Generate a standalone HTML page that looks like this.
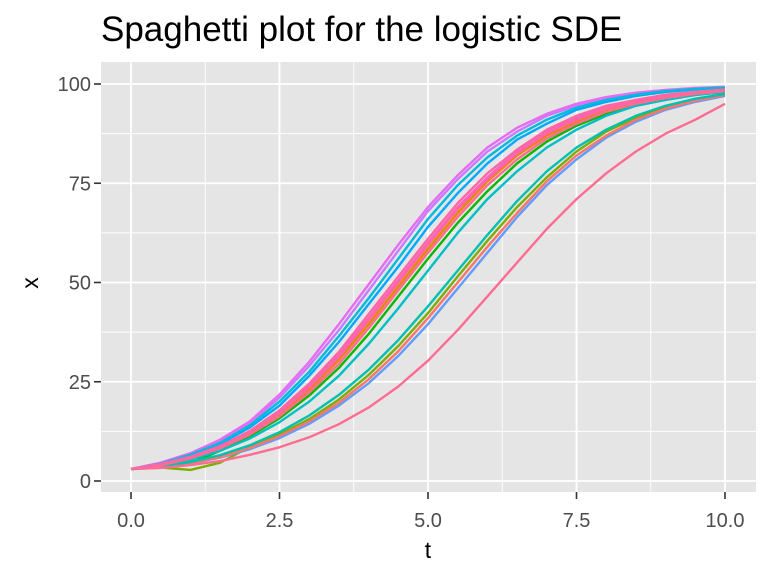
<!DOCTYPE html>
<html><head><meta charset="utf-8"><style>
body{margin:0;background:#fff;}
svg text{font-family:"Liberation Sans",Arial,sans-serif;}
</style></head><body>
<svg id="chart" width="768" height="576" xmlns="http://www.w3.org/2000/svg">
<text x="101" y="41" font-size="35" fill="#000">Spaghetti plot for the logistic SDE</text>
<rect x="101" y="62" width="655" height="430" fill="#E5E5E5"/>
<g id="grid"></g>
<g id="lines"></g>
<g id="axes"></g>
<text x="428" y="558" font-size="23" text-anchor="middle" fill="#000">t</text>
<text x="38" y="283" font-size="23" text-anchor="middle" fill="#000" transform="rotate(-90 38 283)">x</text>
</svg>
<script>
const times = [0,0.5,1,1.5,2,2.5,3,3.5,4,4.5,5,5.5,6,6.5,7,7.5,8,8.5,9,9.5,10];
const xTicks = [0,2.5,5,7.5,10];
const xTickLabels = ["0.0","2.5","5.0","7.5","10.0"];
const yTicks = [0,25,50,75,100];
const yTickLabels = ["0","25","50","75","100"];
const seriesColors = ["#00A9FF","#0CB702","#E58700","#00BFC4","#7CAE00","#619CFF","#F8766D","#00C0AF","#C77CFF","#E76BF3","#00BCD8","#FF61C3","#FF67A4","#FF6C91"];
const s1 = [3,4.5,6.8,10,14.5,21,29,38,48,58,68,76,83,88,92,94.5,96.5,97.5,98.3,98.8,99.2];
const s2 = [3,4.3,6.3,9.3,13.5,19,26.5,35,44.5,54,64,72.5,80,86,90,93.5,95.5,97,98,98.6,99];
const s3 = [3,4.2,6,8.7,12.6,17.8,24.5,32.5,42,51.5,61,70,77.5,83.5,88.5,92,94.5,96,97.3,98,98.6];
const s4 = [3,4,5.8,8.3,12,16.8,23,30.5,39.5,49,58.5,67.5,75.5,82,87,90.5,93.5,95.5,96.8,97.8,98.4];
const s5 = [3,3.6,4.5,7.6,11.3,15.8,21.5,28.5,37,46.5,56,65,73,80,85.5,89.5,92.5,94.8,96.3,97.3,98];
const s6 = [3,3.8,5.4,7.6,10.7,14.8,20,26.5,34.5,43.5,53,62.5,71,78,84,88.5,92,94.5,96,97.2,98];
const s7 = [3,4.3,6.1,8.8,12.4,17.5,24,31.8,41,50.5,60,69,76.5,83,88,91.5,94,96,97.2,98,98.6];
const s8 = [3,3.9,5.7,8.2,11.7,16.3,22.3,29.5,38.5,48,57.5,66.5,74.5,81,86.3,90,93,95,96.5,97.5,98.2];
const s9 = [3,3.6,4.8,6.5,9,12.3,16.5,21.7,28,35.5,44,53,62,70.5,78,84,88.5,92,94.5,96.3,97.5];
const s10 = [3,3.4,2.8,4.6,8.6,11.7,15.6,20.5,26.7,34,42.3,51.5,60.5,69,76.5,83,88,91.5,94,96,97.3];
const s11 = [3,3.5,4.5,6,8.3,11.3,15,19.7,25.6,32.7,41,50,59,67.5,75.5,82,87,91,93.8,95.8,97.2];
const s12 = [3,3.4,4.4,5.9,8,10.8,14.4,19,24.6,31.5,39.5,48.5,57.5,66.5,74.5,81,86.5,90.5,93.5,95.5,97];
const s13 = [3,4.4,6.6,9.6,14,20,27.5,36.5,46,56,66,74.5,81.5,87,91,94,96,97.3,98.2,98.8,99.1];
const s14 = [3,4.6,7,10.4,15,21.8,30,39.5,49.5,59.5,69,77,84,89,92.5,95,96.7,97.8,98.5,99,99.3];
const s15 = [3,4.1,6,8.6,12.3,17.2,23.5,31.2,40.5,50,59.5,68.5,76,82.5,87.5,91,93.8,95.6,97,97.9,98.5];
const s16 = [3,3.3,4,5,6.6,8.5,11,14.3,18.5,23.8,30.3,38,46.5,55,63.5,71,77.5,83,87.5,91,95];
const allSeries = [s2,s5,s4,s6,s10,s12,s11,s9,s1,s14,s13,s7,s15,s8,s3,s16];
const seriesColorIdx = [0,1,2,3,4,5,6,7,8,9,10,11,12,13,12,13];

const L=101,R=756,T=62,B=492;
function xs(t){return 131+t*59.4;}
function ys(v){return 481-v*3.97;}
const NS="http://www.w3.org/2000/svg";
const grid=document.getElementById('grid');
function ln(g,x1,y1,x2,y2,st,w){const l=document.createElementNS(NS,'line');l.setAttribute('x1',x1);l.setAttribute('y1',y1);l.setAttribute('x2',x2);l.setAttribute('y2',y2);l.setAttribute('stroke',st);l.setAttribute('stroke-width',w);g.appendChild(l);return l;}
for(let i=0;i<xTicks.length-1;i++){const m=(xTicks[i]+xTicks[i+1])/2;const l=ln(grid,xs(m),T,xs(m),B,'#fff',0.9);

}
for(let i=0;i<yTicks.length-1;i++){const m=(yTicks[i]+yTicks[i+1])/2;const l=ln(grid,L,ys(m),R,ys(m),'#fff',0.9);

}
const axes=document.getElementById('axes');
xTicks.forEach((t,i)=>{const l=ln(grid,xs(t),T,xs(t),B,'#fff',1.8);


const tk=ln(axes,xs(t),B,xs(t),B+7,'#333',1.6);


const tx=document.createElementNS(NS,'text');tx.setAttribute('x',xs(t));tx.setAttribute('y',527);tx.setAttribute('font-size','20');tx.setAttribute('fill','#4D4D4D');tx.setAttribute('text-anchor','middle');tx.textContent=xTickLabels[i];


axes.appendChild(tx);});
yTicks.forEach((v,i)=>{const l=ln(grid,L,ys(v),R,ys(v),'#fff',1.8);


const tk=ln(axes,L-7,ys(v),L,ys(v),'#333',1.6);


const tx=document.createElementNS(NS,'text');tx.setAttribute('x',L-10);tx.setAttribute('y',ys(v)+7);tx.setAttribute('font-size','20');tx.setAttribute('fill','#4D4D4D');tx.setAttribute('text-anchor','end');tx.textContent=yTickLabels[i];


axes.appendChild(tx);});
const lines=document.getElementById('lines');
allSeries.forEach((s,k)=>{const p=document.createElementNS(NS,'polyline');
p.setAttribute('points',s.map((v,i)=>xs(times[i]).toFixed(1)+','+ys(v).toFixed(1)).join(' '));
p.setAttribute('fill','none');p.setAttribute('stroke',seriesColors[seriesColorIdx[k]]);p.setAttribute('stroke-width','2.4');p.setAttribute('stroke-linejoin','round');


lines.appendChild(p);});
</script>
</body></html>
